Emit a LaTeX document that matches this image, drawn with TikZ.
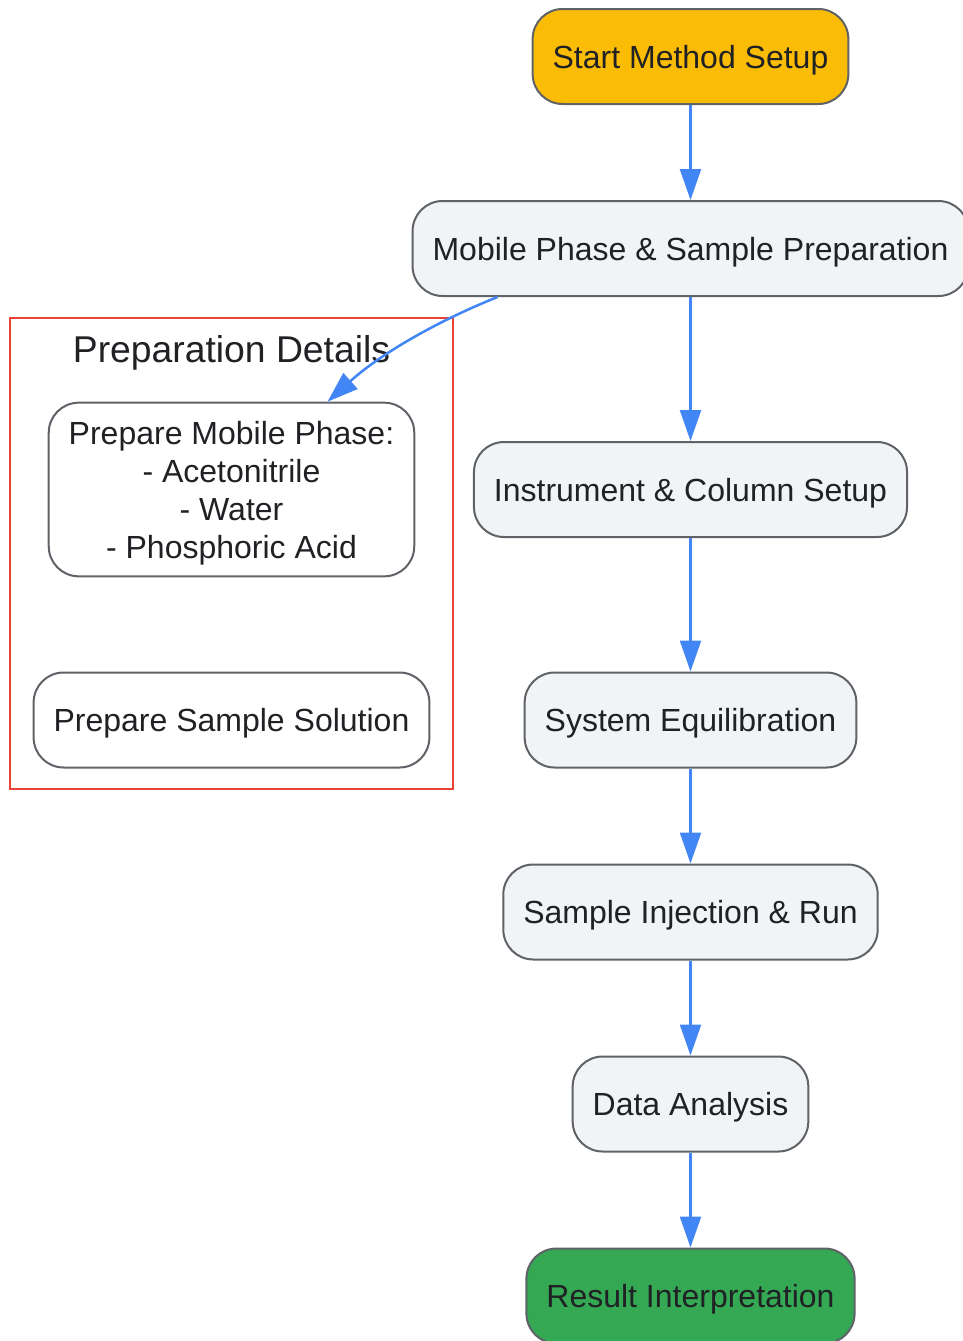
\documentclass[tikz,border=0pt]{standalone}
\usepackage{fontspec}
\setmainfont{Liberation Sans}
\usetikzlibrary{arrows.meta}
\definecolor{startfill}{HTML}{FBBC05}
\definecolor{endfill}{HTML}{34A853}
\definecolor{stepfill}{HTML}{F1F3F4}
\definecolor{stepline}{HTML}{5F6368}
\definecolor{flowblue}{HTML}{4285F4}
\definecolor{groupred}{HTML}{EA4335}
\definecolor{ink}{HTML}{202124}
\begin{document}
\begin{tikzpicture}[x=1pt, y=-1pt,
    every node/.style={font=\fontsize{32}{38}\selectfont, text=ink},
    stepbox/.style={draw=stepline, line width=2pt, fill=stepfill, rounded corners=30pt,
        minimum height=95pt, inner xsep=20pt, inner ysep=12pt, align=center,
        text height=25pt, text depth=2pt},
    subbox/.style={stepbox, fill=white},
    flow/.style={draw=flowblue, line width=2.5pt, -{Triangle[length=31pt, width=21pt]}}]
    \useasboundingbox (0,0) rectangle (963,1341);

    % details group
    \draw[groupred, line width=2pt] (10,318) rectangle (453,789);
    \node (title) at (231.5,353) {\fontsize{37.3}{44}\selectfont Preparation Details};

    \node[subbox, text height={}, text depth={}, inner ysep=11pt] (pmp) at (231.5,489.5)
        {\rule{0pt}{31pt}Prepare Mobile Phase:\\- Acetonitrile\\- Water\\- Phosphoric Acid};
    \node[subbox] (pss) at (231.5,720) {Prepare Sample Solution};

    % main flow
    \node[stepbox, fill=startfill] (start) at (690.5,56.5) {Start Method Setup};
    \node[stepbox] (mob) at (690.5,248.5) {Mobile Phase \& Sample Preparation};
    \node[stepbox] (inst) at (690.5,489.5) {Instrument \& Column Setup};
    \node[stepbox] (equi) at (690.5,720) {System Equilibration};
    \node[stepbox] (inj) at (690.5,912) {Sample Injection \& Run};
    \node[stepbox] (data) at (690.5,1104) {Data Analysis};
    \node[stepbox, fill=endfill] (result) at (690.5,1296) {Result Interpretation};

    \draw[flow] (start) -- (mob);
    \draw[flow] (mob) -- (inst);
    \draw[flow] (inst) -- (equi);
    \draw[flow] (equi) -- (inj);
    \draw[flow] (inj) -- (data);
    \draw[flow] (data) -- (result);
    \draw[flow] ([xshift=-193pt]mob.south) .. controls (445,318) and (385,350) .. ([xshift=96pt]pmp.north);
\end{tikzpicture}
\end{document}
